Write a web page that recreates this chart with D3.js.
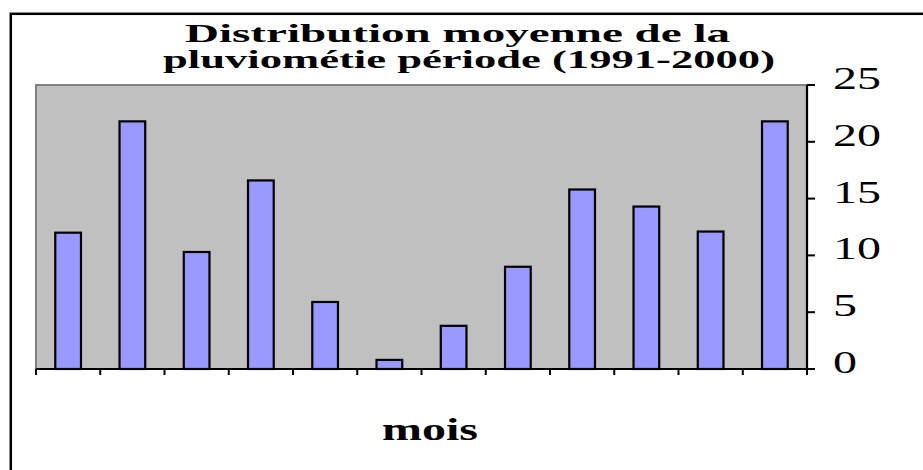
<!DOCTYPE html>
<html>
<head>
<meta charset="utf-8">
<script src="https://cdn.jsdelivr.net/npm/d3@7"></script>
<style>
  body { margin: 0; background: #fff; }
  text { font-family: "Liberation Serif", "Times New Roman", serif; fill: #000; }
</style>
</head>
<body>
<div id="chart"></div>
<script>

// --> DATA

var months = ["janv", "févr", "mars", "avr", "mai", "juin",
              "juil", "août", "sept", "oct", "nov", "déc"];

var rainfall = [12, 21.8, 10.3, 16.6, 5.9, 0.8, 3.8, 9, 15.8, 14.3, 12.1, 21.8];

var yTicks = [0, 5, 10, 15, 20, 25];

var titleLines = ["Distribution moyenne de la", "pluviométie période (1991-2000)"];
var xTitle = "mois";

// --> CREATE SVG DRAWING AREA

var width = 923,
    height = 470;

var plot = { left: 36, right: 807, top: 85, bottom: 369 };

var svg = d3.select("#chart").append("svg")
    .attr("width", width)
    .attr("height", height);

// outer frame (runs off the right and bottom edges)
svg.append("rect")
    .attr("x", 10.8)
    .attr("y", 13.8)
    .attr("width", 930)
    .attr("height", 480)
    .style("fill", "#fff")
    .style("stroke", "#000")
    .style("stroke-width", 2.5);

var x = d3.scaleBand()
    .domain(months)
    .range([plot.left, plot.right])
    .paddingInner(0.6)
    .paddingOuter(0.3);

var xEdges = d3.scaleLinear()
    .domain([0, months.length])
    .range([plot.left, plot.right]);

var y = d3.scaleLinear()
    .domain([0, 25])
    .range([plot.bottom, plot.top]);

// plot area
svg.append("rect")
    .attr("x", plot.left)
    .attr("y", plot.top)
    .attr("width", plot.right - plot.left)
    .attr("height", plot.bottom - plot.top)
    .style("fill", "#c0c0c0")
    .style("stroke", "#808080")
    .style("stroke-width", 2);

// bars
svg.selectAll(".bar")
    .data(rainfall)
    .enter()
    .append("rect")
    .attr("class", "bar")
    .attr("x", function (d, i) { return x(months[i]); })
    .attr("width", x.bandwidth())
    .attr("y", function (d) { return y(d); })
    .attr("height", function (d) { return y(0) - y(d); })
    .style("fill", "#9999ff")
    .style("stroke", "#000")
    .style("stroke-width", 2.2);

// bottom axis: ticks between categories
svg.append("line")
    .attr("x1", plot.left)
    .attr("x2", plot.right)
    .attr("y1", y(0))
    .attr("y2", y(0))
    .style("stroke", "#000")
    .style("stroke-width", 2.2);

svg.selectAll(".xtick")
    .data(d3.range(months.length + 1))
    .enter()
    .append("line")
    .attr("class", "xtick")
    .attr("x1", function (d) { return xEdges(d); })
    .attr("x2", function (d) { return xEdges(d); })
    .attr("y1", y(0))
    .attr("y2", y(0) + 6)
    .style("stroke", "#000")
    .style("stroke-width", 2);

// right axis
svg.append("line")
    .attr("x1", plot.right)
    .attr("x2", plot.right)
    .attr("y1", y(25))
    .attr("y2", y(0))
    .style("stroke", "#000")
    .style("stroke-width", 2.2);

svg.selectAll(".ytick")
    .data(yTicks)
    .enter()
    .append("line")
    .attr("class", "ytick")
    .attr("x1", plot.right)
    .attr("x2", plot.right + 8)
    .attr("y1", function (d) { return y(d); })
    .attr("y2", function (d) { return y(d); })
    .style("stroke", "#000")
    .style("stroke-width", 2);

svg.selectAll(".ylabel")
    .data(yTicks)
    .enter()
    .append("text")
    .attr("class", "ylabel")
    .attr("transform", function (d) {
        return "translate(833," + (y(d) + 4) + ") scale(1.55,1)";
    })
    .style("font-size", "31px")
    .text(function (d) { return d; });

// titles
svg.append("text")
    .attr("x", 185)
    .attr("y", 42)
    .attr("textLength", 545)
    .attr("lengthAdjust", "spacingAndGlyphs")
    .style("font-size", "25px")
    .style("font-weight", "bold")
    .text(titleLines[0]);

svg.append("text")
    .attr("x", 163)
    .attr("y", 68)
    .attr("textLength", 612)
    .attr("lengthAdjust", "spacingAndGlyphs")
    .style("font-size", "25px")
    .style("font-weight", "bold")
    .text(titleLines[1]);

svg.append("text")
    .attr("x", 382)
    .attr("y", 440)
    .attr("textLength", 96)
    .attr("lengthAdjust", "spacingAndGlyphs")
    .style("font-size", "32px")
    .style("font-weight", "bold")
    .text(xTitle);

</script>
</body>
</html>
